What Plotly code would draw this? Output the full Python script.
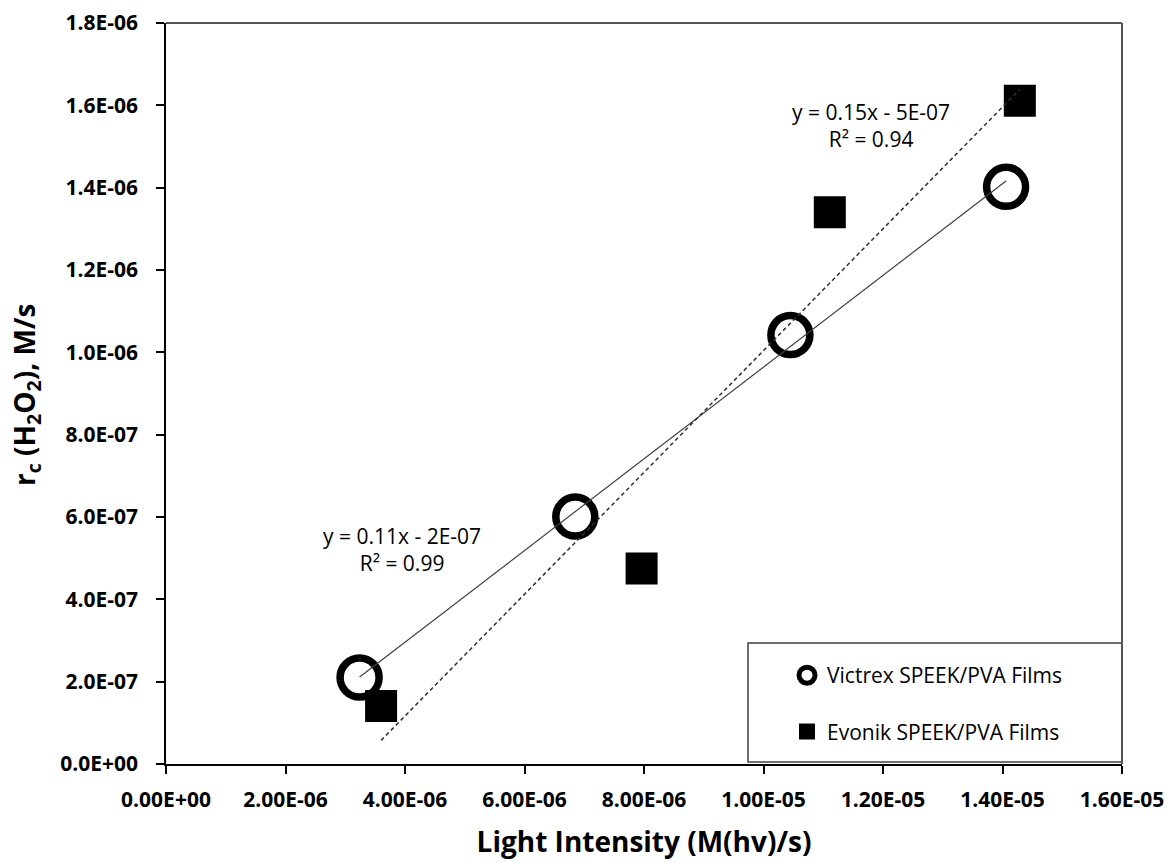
import numpy as np
import plotly.graph_objects as go

# Measured reaction rates vs. light intensity for the two film types
victrex_x = [3.24e-6, 6.85e-6, 10.45e-6, 14.06e-6]
victrex_y = [2.10e-7, 6.01e-7, 1.042e-6, 1.402e-6]
evonik_x = [3.60e-6, 7.96e-6, 11.11e-6, 14.29e-6]
evonik_y = [1.41e-7, 4.75e-7, 1.340e-6, 1.611e-6]

series_names = ["Victrex SPEEK/PVA Films", "Evonik SPEEK/PVA Films"]

x_tick_vals = [0, 2e-6, 4e-6, 6e-6, 8e-6, 1.0e-5, 1.2e-5, 1.4e-5, 1.6e-5]
x_tick_text = ["0.00E+00", "2.00E-06", "4.00E-06", "6.00E-06", "8.00E-06",
               "1.00E-05", "1.20E-05", "1.40E-05", "1.60E-05"]
y_tick_vals = [0, 2e-7, 4e-7, 6e-7, 8e-7, 1.0e-6, 1.2e-6, 1.4e-6, 1.6e-6, 1.8e-6]
y_tick_text = ["0.0E+00", "2.0E-07", "4.0E-07", "6.0E-07", "8.0E-07",
               "1.0E-06", "1.2E-06", "1.4E-06", "1.6E-06", "1.8E-06"]

victrex_eq = ["y = 0.11x - 2E-07", "R² = 0.99"]
evonik_eq = ["y = 0.15x - 5E-07", "R² = 0.94"]

x_title = "Light Intensity (M(hv)/s)"
y_title = "r<sub>c</sub> (H<sub>2</sub>O<sub>2</sub>), M/s"

FONT = "Open Sans"


def trend(xs, ys):
    """Least-squares line evaluated over the data range."""
    m, b = np.polyfit(xs, ys, 1)
    xr = np.array([min(xs), max(xs)])
    return xr, m * xr + b


fig = go.Figure()

fig.add_trace(go.Scatter(
    x=victrex_x, y=victrex_y, mode="markers", name=series_names[0],
    legendgroup="v",
    marker=dict(symbol="circle-open", size=39, color="black",
                line=dict(width=7.5, color="black")),
))
fig.add_trace(go.Scatter(
    x=evonik_x, y=evonik_y, mode="markers", name=series_names[1],
    legendgroup="e",
    marker=dict(symbol="square", size=32, color="black",
                line=dict(width=0, color="black")),
))

vx, vy = trend(victrex_x, victrex_y)
fig.add_trace(go.Scatter(x=vx, y=vy, mode="lines", showlegend=False,
                         line=dict(color="#404040", width=1.2)))
ex, ey = trend(evonik_x, evonik_y)
fig.add_trace(go.Scatter(x=ex, y=ey, mode="lines", showlegend=False,
                         line=dict(color="#303030", width=1.5, dash="4px,3px")))

# Trendline equation labels
fig.add_annotation(x=3.95e-6, y=0.52e-6, xref="x", yref="y",
                   text="<br>".join(victrex_eq), showarrow=False, align="center",
                   font=dict(family=FONT, size=21, color="black"))
fig.add_annotation(x=11.8e-6, y=1.55e-6, xref="x", yref="y",
                   text="<br>".join(evonik_eq), showarrow=False, align="center",
                   font=dict(family=FONT, size=21, color="black"))

# Vertical axis title
fig.add_annotation(x=-0.1464, y=0.498, xref="paper", yref="paper",
                   xanchor="center", yanchor="middle", textangle=-90,
                   text=y_title, showarrow=False,
                   font=dict(family=FONT, size=28, color="black", weight="bold"))

# Legend frame and plot-area border (top/right)
fig.add_shape(type="rect", xref="paper", yref="paper",
              x0=0.6088, x1=1.0, y0=0.0027, y1=0.1633,
              fillcolor="white", line=dict(color="#404040", width=1.5), layer="below")
fig.add_shape(type="line", xref="paper", yref="paper", x0=0, x1=1, y0=1, y1=1,
              line=dict(color="#555555", width=2))
fig.add_shape(type="line", xref="paper", yref="paper", x0=1, x1=1, y0=0, y1=1,
              line=dict(color="#555555", width=2))

axis_common = dict(
    showgrid=False, zeroline=False, showline=True, linecolor="black", linewidth=1.5,
    ticks="outside", ticklen=8, tickwidth=1.5, tickcolor="black",
    tickfont=dict(family=FONT, size=21, color="black", weight="bold"),
    automargin=False,
)

fig.update_xaxes(
    range=[0, 1.6e-5], tickvals=x_tick_vals, ticktext=x_tick_text,
    ticklabelstandoff=8,
    title=dict(text=x_title, standoff=20,
               font=dict(family=FONT, size=28, color="black", weight="bold")),
    **axis_common,
)
fig.update_yaxes(
    range=[0, 1.8e-6], tickvals=y_tick_vals, ticktext=y_tick_text,
    ticklabelstandoff=14,
    **axis_common,
)

fig.update_layout(
    width=1172, height=863,
    margin=dict(l=166, r=50, t=23, b=99),
    paper_bgcolor="white", plot_bgcolor="white",
    showlegend=True,
    legend=dict(x=0.6496, y=0.147, xanchor="left", yanchor="top",
                bgcolor="rgba(0,0,0,0)", borderwidth=0,
                traceorder="grouped", tracegroupgap=26,
                font=dict(family=FONT, size=21, color="black")),
)

fig.write_html("out.html")
